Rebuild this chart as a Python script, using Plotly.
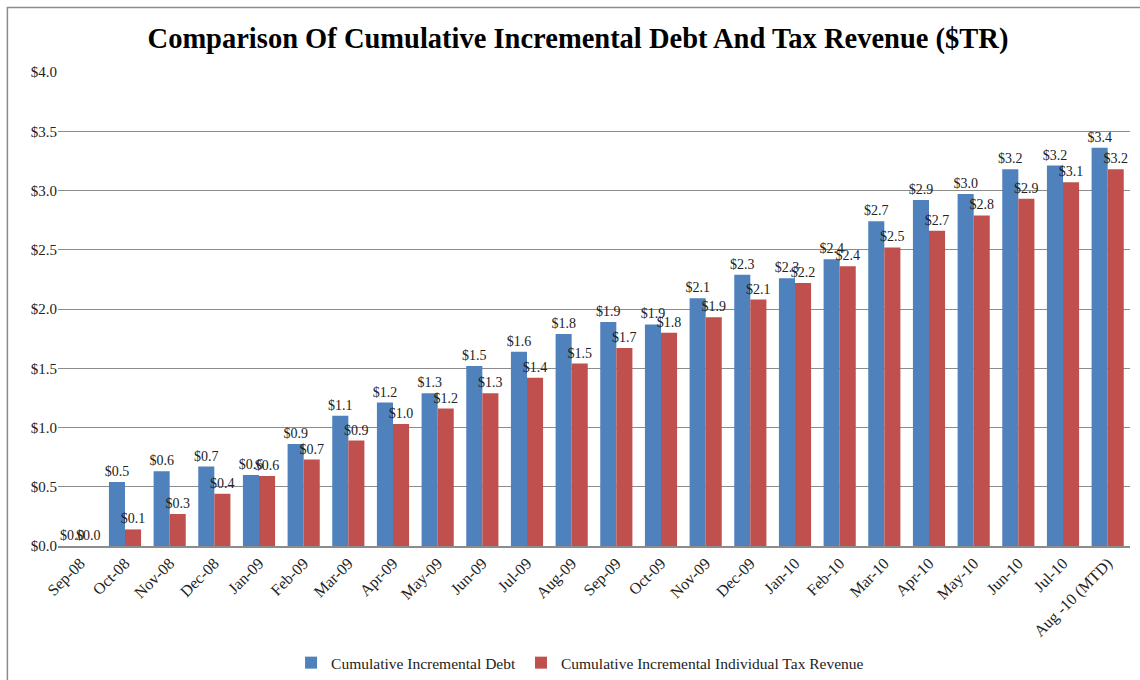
import plotly.graph_objects as go

categories = ["Sep-08", "Oct-08", "Nov-08", "Dec-08", "Jan-09", "Feb-09", "Mar-09", "Apr-09",
              "May-09", "Jun-09", "Jul-09", "Aug-09", "Sep-09", "Oct-09", "Nov-09", "Dec-09",
              "Jan-10", "Feb-10", "Mar-10", "Apr-10", "May-10", "Jun-10", "Jul-10", "Aug -10 (MTD)"]
debt = [0.0, 0.54, 0.63, 0.67, 0.60, 0.86, 1.10, 1.21,
        1.29, 1.52, 1.64, 1.79, 1.89, 1.87, 2.09, 2.29,
        2.26, 2.42, 2.74, 2.92, 2.97, 3.18, 3.21, 3.36]
tax = [0.0, 0.14, 0.27, 0.44, 0.59, 0.73, 0.89, 1.03,
       1.16, 1.29, 1.42, 1.54, 1.67, 1.80, 1.93, 2.08,
       2.22, 2.36, 2.52, 2.66, 2.79, 2.93, 3.07, 3.18]
y_ticks = [0.0, 0.5, 1.0, 1.5, 2.0, 2.5, 3.0, 3.5, 4.0]
y_tick_labels = ["$0.0", "$0.5", "$1.0", "$1.5", "$2.0", "$2.5", "$3.0", "$3.5", "$4.0"]

FONT = "Liberation Serif"

fig = go.Figure()
fig.add_trace(go.Bar(
    x=categories, y=debt, name="Cumulative Incremental Debt",
    marker=dict(color="#4F81BD", line=dict(width=0)),
    texttemplate="$%{y:.1f}", textposition="outside", constraintext="none",
    cliponaxis=False, textfont=dict(family=FONT, size=14, color="#222222"),
))
fig.add_trace(go.Bar(
    x=categories, y=tax, name="Cumulative Incremental Individual Tax Revenue",
    marker=dict(color="#C0504D", line=dict(width=0)),
    texttemplate="$%{y:.1f}", textposition="outside", constraintext="none",
    cliponaxis=False, textfont=dict(family=FONT, size=14, color="#222222"),
))

fig.update_layout(
    width=1140, height=680,
    margin=dict(l=58, r=10, t=72, b=134, autoexpand=False),
    paper_bgcolor="white", plot_bgcolor="white",
    font=dict(family=FONT, size=14, color="#222222"),
    title=dict(text="<b>Comparison Of Cumulative Incremental Debt And Tax Revenue ($TR)</b>",
               x=0.507, xanchor="center", y=0.944, yanchor="middle",
               font=dict(family=FONT, size=28.5, color="black")),
    barmode="group", bargap=0.28, bargroupgap=0.0,
    showlegend=True,
    legend=dict(orientation="h", x=0.487, xanchor="center", y=-0.247, yanchor="middle",
                font=dict(family=FONT, size=15.5, color="#222222"), traceorder="normal",
                itemwidth=30, bgcolor="rgba(0,0,0,0)"),
    shapes=[dict(type="rect", xref="paper", yref="paper",
                 x0=-0.0472, x1=1.03, y0=-0.32, y1=1.136,
                 line=dict(color="#8c8c8c", width=1.5), fillcolor="rgba(0,0,0,0)", layer="below")],
)
fig.update_xaxes(
    tickangle=-45, showline=True, linecolor="#8c8c8c", linewidth=1.5, automargin=False,
    ticks="", tickfont=dict(family=FONT, size=16, color="#222222"),
    showgrid=False,
)
fig.update_yaxes(
    range=[0, 4.0], tickmode="array", tickvals=y_ticks, ticktext=y_tick_labels, automargin=False,
    showgrid=True, gridcolor="#8c8c8c", gridwidth=1, zeroline=False, showline=False,
    ticks="", tickfont=dict(family=FONT, size=15, color="#222222"),
)

fig.write_html("out.html", config={"displayModeBar": False},
               post_script="document.body.style.margin='0';document.body.style.overflow='hidden';")
